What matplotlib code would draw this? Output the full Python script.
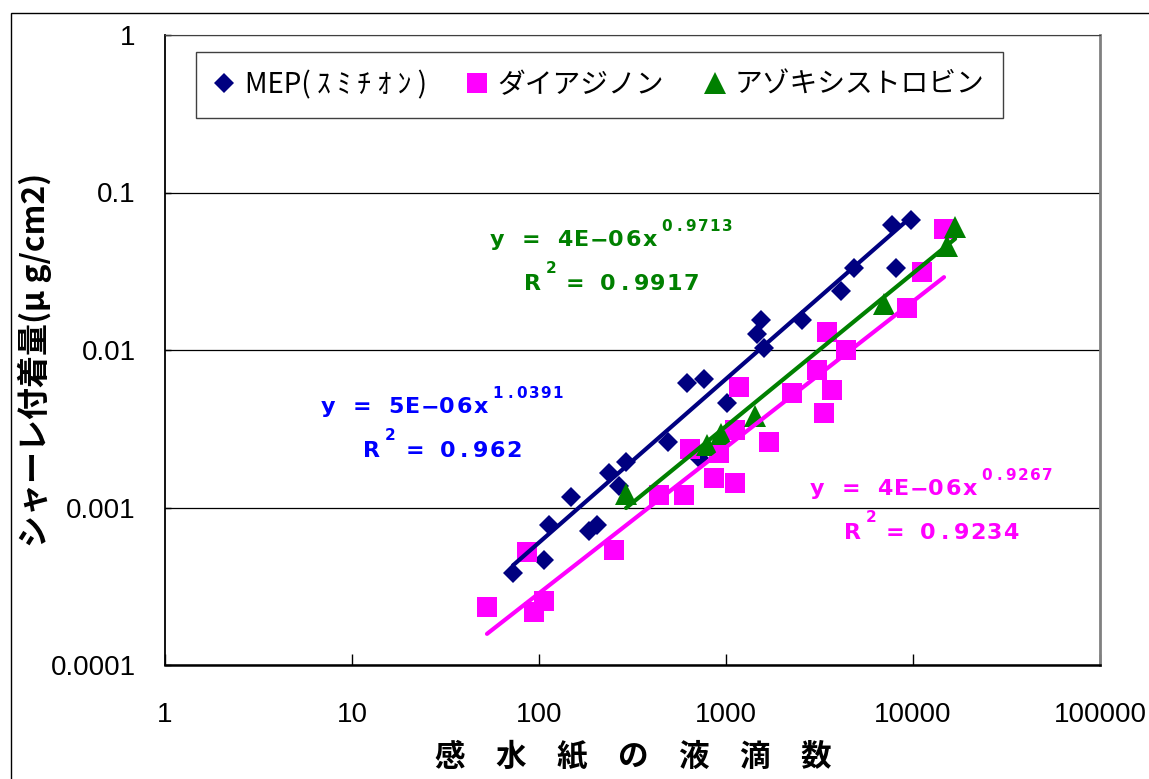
import numpy as np
import matplotlib
matplotlib.use('Agg')
import matplotlib.pyplot as plt
from matplotlib.lines import Line2D
from matplotlib.patches import Rectangle
from matplotlib.font_manager import FontProperties
from matplotlib.ticker import FixedLocator, FixedFormatter, NullLocator

# data
mep_x = [72.6, 106, 113, 148, 185, 204, 237, 292, 268, 490, 618, 763, 1012, 717,
         1538, 1465, 1596, 2547, 4120, 4832, 8110, 7720, 9750]
mep_y = [3.84e-4, 4.64e-4, 7.74e-4, 1.17e-3, 7.10e-4, 7.74e-4, 1.66e-3, 1.95e-3, 1.37e-3,
         2.61e-3, 6.17e-3, 6.55e-3, 4.61e-3, 2.06e-3, 0.0155, 0.0126, 0.0103, 0.0155,
         0.0237, 0.0332, 0.0332, 0.0622, 0.0669]

dia_x = [52.7, 86.3, 106, 94.0, 252, 438, 596, 642, 863, 1117, 918, 1174, 1698, 2254,
         3066, 3690, 3343, 3467, 4385, 9290, 11170, 14650, 1117]
dia_y = [2.33e-4, 5.21e-4, 2.55e-4, 2.17e-4, 5.37e-4, 1.20e-3, 1.20e-3, 2.35e-3, 1.54e-3,
         1.43e-3, 2.22e-3, 5.82e-3, 2.61e-3, 5.33e-3, 7.46e-3, 5.57e-3, 3.98e-3, 0.0130,
         0.0100, 0.0185, 0.0313, 0.0587, 3.1e-3]

azo_x = [292, 791, 940, 1429, 7000, 15200, 16790]
azo_y = [1.22e-3, 2.49e-3, 2.93e-3, 3.81e-3, 0.0196, 0.0457, 0.0604]

# power trendlines y = a * x^b (from the chart labels)
mep_fit = (5e-6, 1.0391, '0.962')
dia_fit = (4e-6, 0.9267, '0.9234')
azo_fit = (4e-6, 0.9713, '0.9917')

labels = ['MEP( ｽ ﾐ ﾁ ｵ ﾝ )', 'ダイアジノン', 'アゾキシストロビン']
x_ticks = [1, 10, 100, 1000, 10000, 100000]
y_ticks = [0.0001, 0.001, 0.01, 0.1, 1]
y_tick_labels = ['0.0001', '0.001', '0.01', '0.1', '1']

NAVY = '#000080'
PINK = '#FF00FF'
GREEN = '#008000'

W, H = 1149, 779
fig = plt.figure(figsize=(W / 100, H / 100), dpi=100)


def fx(x):
    return x / W


def fy(y):
    return 1 - y / H


ax = fig.add_axes([fx(165), fy(665), 935 / W, 630 / H])
ax.set_xscale('log')
ax.set_yscale('log')
ax.set_xlim(1, 100000)
ax.set_ylim(0.0001, 1)

# markers
ax.plot(mep_x, mep_y, 'D', color=NAVY, ms=10, mew=0, zorder=3)
ax.plot(dia_x, dia_y, 's', color=PINK, ms=14, mew=0, zorder=3)
ax.plot(azo_x, azo_y, '^', color=GREEN, ms=16, mew=0, zorder=3)

# trendlines
for xs, fit, col in [(mep_x, mep_fit, NAVY), (dia_x, dia_fit, PINK), (azo_x, azo_fit, GREEN)]:
    xx = np.logspace(np.log10(min(xs)), np.log10(max(xs)), 100)
    ax.plot(xx, fit[0] * xx ** fit[1], '-', color=col, lw=3.0, zorder=4,
            solid_capstyle='round')

# axes styling
ax.xaxis.set_major_locator(FixedLocator(x_ticks))
ax.xaxis.set_major_formatter(FixedFormatter([str(v) for v in x_ticks]))
ax.yaxis.set_major_locator(FixedLocator(y_ticks))
ax.yaxis.set_major_formatter(FixedFormatter(y_tick_labels))
ax.xaxis.set_minor_locator(NullLocator())
ax.yaxis.set_minor_locator(NullLocator())
ax.tick_params(axis='x', direction='in', length=8, width=1, pad=27, labelsize=20)
ax.tick_params(axis='y', direction='in', length=4, width=1, pad=21, labelsize=20)
for lab in ax.get_xticklabels() + ax.get_yticklabels():
    lab.set_family('Liberation Sans')
ax.grid(True, axis='y', color='black', lw=0.9)
ax.set_axisbelow(True)
ax.spines['left'].set_linewidth(1.3)
ax.spines['bottom'].set_linewidth(1.8)
ax.spines['top'].set_color('#404040')
ax.spines['right'].set_color('#808080')
ax.spines['right'].set_linewidth(2)

# legend
handles = [Line2D([], [], marker='D', ls='', color=NAVY, ms=10, mew=0),
           Line2D([], [], marker='s', ls='', color=PINK, ms=14, mew=0),
           Line2D([], [], marker='^', ls='', color=GREEN, ms=16, mew=0)]
leg = ax.legend(handles, labels, ncol=3, loc='upper left',
                bbox_to_anchor=((196 - 165) / 935, (665 - 52) / 630), borderaxespad=0,
                frameon=True, fancybox=False, edgecolor='#404040', framealpha=1,
                borderpad=0.65, handlelength=0.75, handletextpad=0.35, columnspacing=1.45,
                prop=FontProperties(family='Noto Sans CJK JP', size=20))
leg.get_frame().set_linewidth(1.0)


# trendline equations with wide letter spacing
def eq_text(x_left, base, coef, expo, r2, color):
    kw = dict(color=color, fontsize=16, fontweight='bold', family='DejaVu Sans',
              ha='center', va='baseline')
    sup = dict(kw, fontsize=11)
    for i, ch in enumerate('y = ' + coef + 'x'):
        fig.text(fx(x_left + 8 + 17 * i), fy(base), ch, **kw)
    for i, ch in enumerate(expo):
        fig.text(fx(x_left + 178 + 12 * i), fy(base - 15), ch, **sup)
    r_left = x_left + 34 + 8.5 * (6 - len(r2))
    b2 = base + 44
    fig.text(fx(r_left + 9), fy(b2), 'R', **kw)
    fig.text(fx(r_left + 28), fy(b2 - 17), '2', **sup)
    fig.text(fx(r_left + 52), fy(b2), '=', **kw)
    for i, ch in enumerate(r2):
        fig.text(fx(r_left + 85 + 16.6 * i), fy(b2), ch, **kw)


eq_text(320, 413, '5E\u221206', '1.0391', mep_fit[2], '#0000FF')
eq_text(489, 246, '4E\u221206', '0.9713', azo_fit[2], GREEN)
eq_text(809, 495, '4E\u221206', '0.9267', dia_fit[2], PINK)

# axis titles
fig.text(fx(633), fy(757), '感\u3000水\u3000紙\u3000の\u3000液\u3000滴\u3000数',
         ha='center', va='center', fontsize=22, fontweight='bold', family='Noto Sans CJK JP')
fig.text(fx(35), fy(360), 'シャーレ付着量(μ g/cm2)', rotation=90,
         ha='center', va='center', fontsize=23, fontweight='bold',
         family=['Noto Sans CJK JP', 'DejaVu Sans'])

# outer chart border
fig.add_artist(Rectangle((fx(11), -0.1), 1.2, fy(13) + 0.1, transform=fig.transFigure,
                         fill=False, edgecolor='black', lw=1.0, clip_on=False))

fig.savefig('out.png', dpi=100)
